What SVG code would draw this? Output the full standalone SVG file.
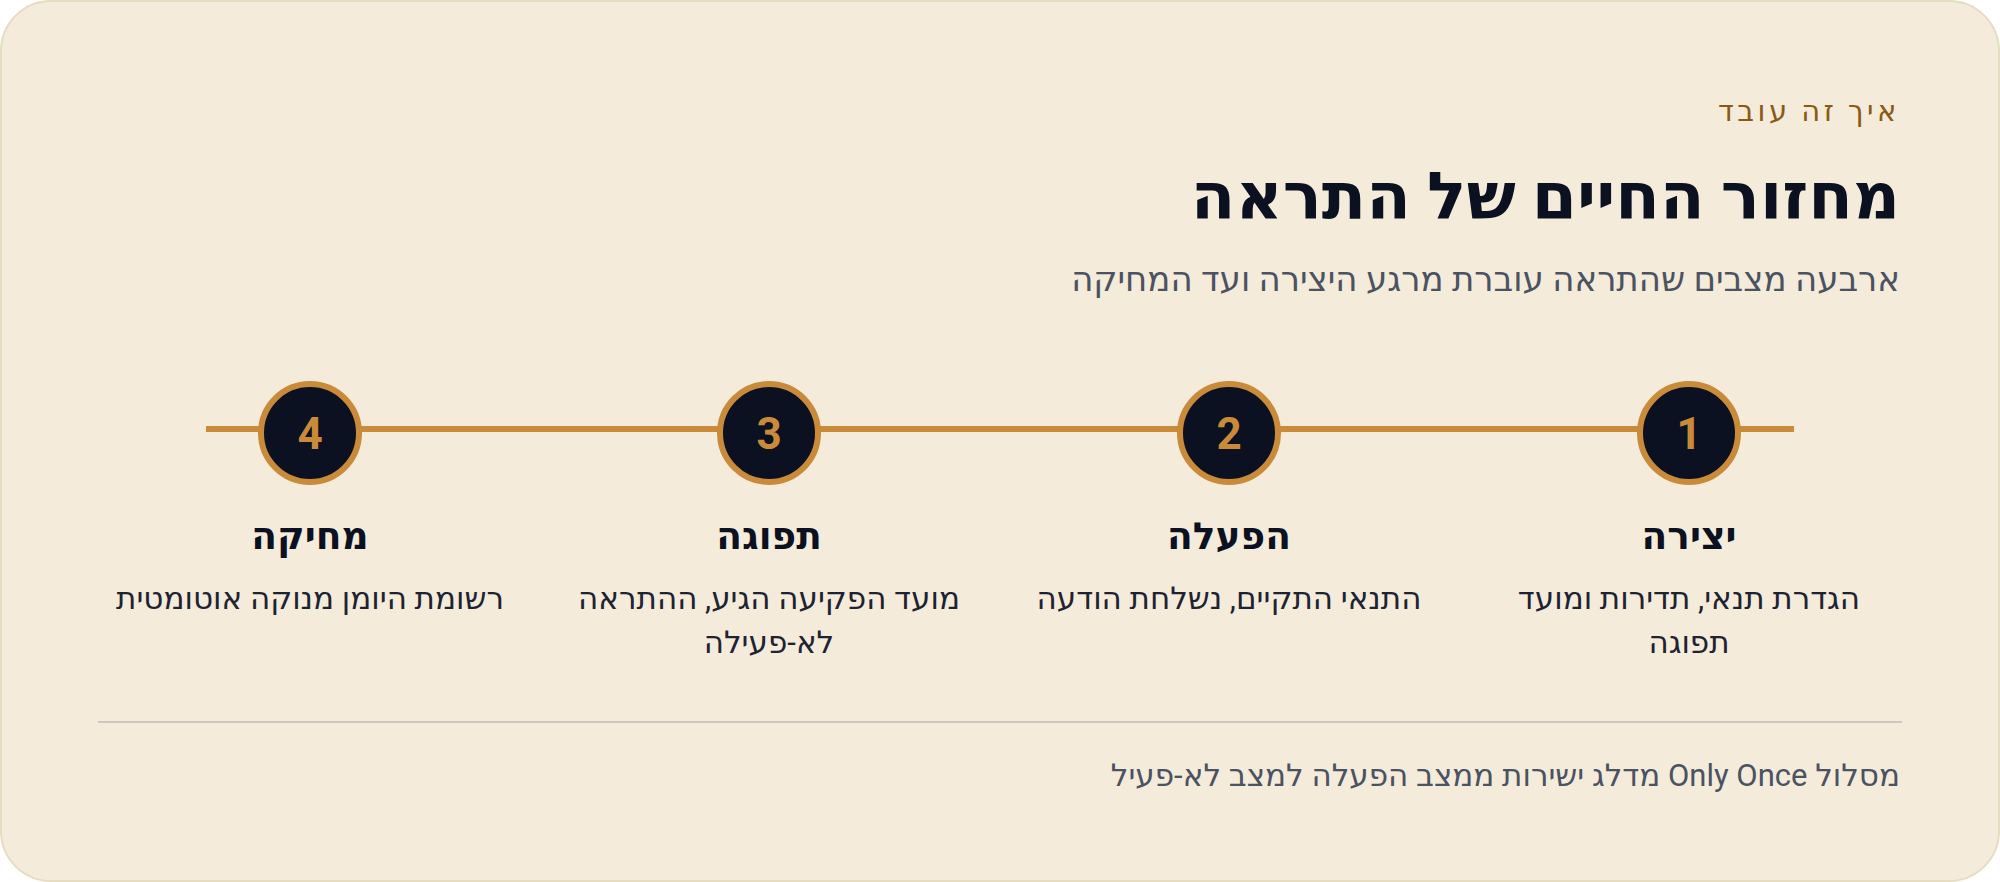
<svg xmlns="http://www.w3.org/2000/svg" width="2000" height="882" viewBox="0 0 2000 882">
<style>
text{font-family:Roboto,"Noto Sans","DejaVu Sans",sans-serif;direction:rtl;unicode-bidi:embed}
.kicker{font-size:29px;fill:#8a5a14;letter-spacing:3.5px}
.title{font-size:65px;font-weight:700;fill:#0b1120}
.sub{font-size:34px;fill:#4b5261}
.st{font-size:37.5px;font-weight:700;fill:#0b1120;text-anchor:middle}
.desc{font-size:31px;fill:#1e2332;text-anchor:middle}
.num{font-size:44px;font-weight:700;fill:#c98b3a;text-anchor:middle;direction:ltr}
.foot{font-size:31px;fill:#4b5261}
.ring{fill:#0b1120;stroke:#c98b3a;stroke-width:6}
</style>
<rect x="1" y="1" width="1998" height="880" rx="50" fill="#f4ebdb" stroke="#e6dcc2" stroke-width="2"/>
<g id="header">
<text class="kicker" x="1900" y="121">איך זה עובד</text>
<text class="title" x="1900" y="219">מחזור החיים של התראה</text>
<text class="sub" x="1900" y="291">ארבעה מצבים שהתראה עוברת מרגע היצירה ועד המחיקה</text>
</g>
<g id="connectors">
<line x1="206" y1="429" x2="1794" y2="429" stroke="#c98b3a" stroke-width="6"/>
</g>
<g id="step1">
<circle class="ring" cx="1689" cy="433" r="49"/>
<text class="num" x="1689" y="449">1</text>
<text class="st" x="1689" y="549">יצירה</text>
<text class="desc" x="1689" y="609">הגדרת תנאי, תדירות ומועד</text>
<text class="desc" x="1689" y="653">תפוגה</text>
</g>
<g id="step2">
<circle class="ring" cx="1229" cy="433" r="49"/>
<text class="num" x="1229" y="449">2</text>
<text class="st" x="1229" y="549">הפעלה</text>
<text class="desc" x="1229" y="609">התנאי התקיים, נשלחת הודעה</text>
</g>
<g id="step3">
<circle class="ring" cx="769" cy="433" r="49"/>
<text class="num" x="769" y="449">3</text>
<text class="st" x="769" y="549">תפוגה</text>
<text class="desc" x="769" y="609">מועד הפקיעה הגיע, ההתראה</text>
<text class="desc" x="769" y="653">לא-פעילה</text>
</g>
<g id="step4">
<circle class="ring" cx="310" cy="433" r="49"/>
<text class="num" x="310" y="449">4</text>
<text class="st" x="310" y="549">מחיקה</text>
<text class="desc" x="310" y="609">רשומת היומן מנוקה אוטומטית</text>
</g>
<g id="footer">
<line x1="98" y1="722" x2="1902" y2="722" stroke="#cfc8c0" stroke-width="2"/>
<text class="foot" x="1900" y="786">מסלול Only Once מדלג ישירות ממצב הפעלה למצב לא-פעיל</text>
</g>
</svg>
